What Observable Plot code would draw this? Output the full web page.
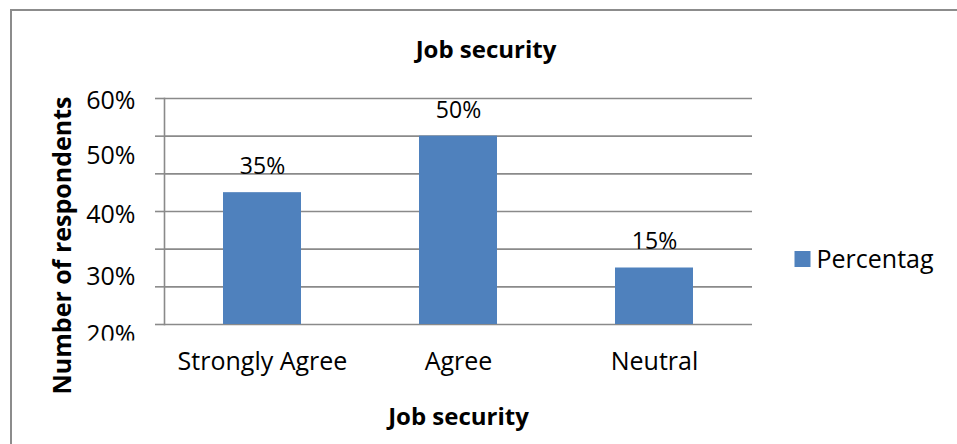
<!DOCTYPE html>
<html>
<head>
<meta charset="utf-8">
<script src="https://cdn.jsdelivr.net/npm/d3@7"></script>
<script src="https://cdn.jsdelivr.net/npm/@observablehq/plot@0.6"></script>
<style>
  html, body { margin: 0; padding: 0; background: #fff; }
  #wrap { position: relative; width: 957px; height: 444px; overflow: hidden; }
  #border { position: absolute; left: 10px; top: 9px; width: 1000px; height: 500px;
            border-top: 2px solid #8c8c8c; border-left: 2px solid #8c8c8c; }
  #chart { position: absolute; left: 0; top: 0; }
</style>
</head>
<body>
<div id="wrap"><div id="border"></div><div id="chart"></div></div>
<script>
const categories = ["Strongly Agree", "Agree", "Neutral"];
const values = [35, 50, 15];
const valueLabels = ["35%", "50%", "15%"];
const gridValues = [0, 10, 20, 30, 40, 50, 60];
const tickLabels = ["60%", "50%", "40%", "30%", "20%"];
const tickLabelAt = [59.3, 44.7, 29.2, 12.7, -2.9];
const title = "Job security";
const xTitle = "Job security";
const yTitle = "Number of respondents";
const seriesName = "Percentag";

const data = categories.map((c, i) => ({category: c, value: values[i], label: valueLabels[i]}));
const ticks = tickLabels.map((t, i) => ({text: t, at: tickLabelAt[i]}));

const font = "'Open Sans', sans-serif";
const grey = "#8a8a8a";
const blue = "#4f81bd";

const chart = Plot.plot({
  width: 957,
  height: 444,
  marginLeft: 164,
  marginRight: 205,
  marginTop: 98,
  marginBottom: 120,
  style: {fontFamily: font, fontSize: "25px", color: "#000", background: "transparent", overflow: "visible"},
  x: {domain: categories, paddingInner: 0.6, paddingOuter: 0.3, label: null},
  y: {domain: [0, 60], label: null},
  marks: [
    Plot.gridY(gridValues, {stroke: grey, strokeOpacity: 1, strokeWidth: 1.6}),
    Plot.axisY(gridValues, {tickSize: 9, tickFormat: () => "", stroke: grey, strokeWidth: 1.6, label: null}),
    Plot.frame({anchor: "left", stroke: grey, strokeWidth: 1.6}),
    Plot.barY(data, {x: "category", y: "value", fill: blue}),
    Plot.text(data, {x: "category", y: "value", text: "label", dy: -26, lineAnchor: "middle", fontSize: 23, fill: "#000"}),
    Plot.axisX({tickSize: 0, tickPadding: 28, fontSize: 25, label: null}),
    Plot.text(ticks, {frameAnchor: "left", y: "at", text: "text", textAnchor: "end", dx: -29, lineAnchor: "middle", fontSize: 25, fill: "#000", className: "ytick-labels"}),
    Plot.text([title], {frameAnchor: "top", dx: 27.5, dy: -48, lineAnchor: "middle", fontWeight: "bold", fontSize: 24, fill: "#000"}),
    Plot.text([xTitle], {frameAnchor: "bottom", dy: 83, lineAnchor: "top", fontWeight: "bold", fontSize: 24, fill: "#000"}),
    Plot.text([yTitle], {frameAnchor: "left", dx: -102, dy: 34, rotate: -90, textAnchor: "middle", lineAnchor: "middle", fontWeight: "bold", fontSize: 25, fill: "#000"}),
    Plot.dot([seriesName], {frameAnchor: "right", dx: 50, dy: 47.5, symbol: "square", r: 9.03, fill: blue, stroke: null}),
    Plot.text([seriesName], {frameAnchor: "right", dx: 64, dy: 48, textAnchor: "start", lineAnchor: "middle", fontSize: 25, fill: "#000"})
  ]
});

// clip the bottom tick label as in the reference
const svg = d3.select(chart);
svg.append("defs").append("clipPath").attr("id", "tickclip")
  .append("rect").attr("x", 0).attr("y", 0).attr("width", 957).attr("height", 340);
svg.select(".ytick-labels").attr("clip-path", "url(#tickclip)");

document.getElementById("chart").appendChild(chart);
</script>
</body>
</html>
